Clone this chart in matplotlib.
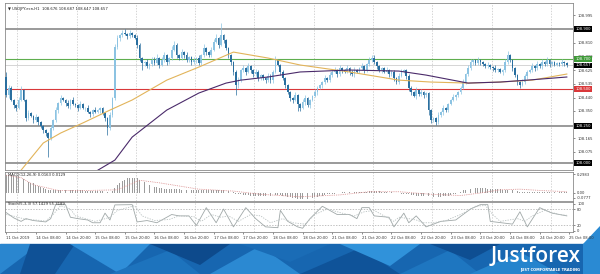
import matplotlib.pyplot as plt
import matplotlib.transforms as mtransforms
from matplotlib.patches import Polygon, Rectangle
import numpy as np

W, H = 600, 274

# ---- dane: USDJPY.ecn H1 ----
first_open = 108.580
closes = [
    108.457, 108.505, 108.424, 108.390, 108.370, 108.424, 108.491, 108.424,
    108.302, 108.336, 108.316, 108.289, 108.309, 108.275, 108.248, 108.221,
    108.201, 108.167, 108.235, 108.289, 108.356, 108.403, 108.437, 108.424,
    108.403, 108.383, 108.424, 108.397, 108.390, 108.370, 108.397, 108.370,
    108.370, 108.343, 108.329, 108.356, 108.343, 108.356, 108.370, 108.336,
    108.302, 108.235, 108.322, 108.437, 108.781, 108.842, 108.862, 108.875,
    108.869, 108.855, 108.875, 108.862, 108.842, 108.795, 108.707, 108.673,
    108.680, 108.653, 108.666, 108.693, 108.673, 108.707, 108.660, 108.693,
    108.727, 108.680, 108.707, 108.761, 108.795, 108.727, 108.707, 108.747,
    108.727, 108.693, 108.714, 108.680, 108.693, 108.707, 108.673, 108.727,
    108.774, 108.747, 108.727, 108.761, 108.815, 108.842, 108.795, 108.862,
    108.828, 108.774, 108.727, 108.680, 108.613, 108.525, 108.558, 108.626,
    108.639, 108.613, 108.653, 108.626, 108.599, 108.613, 108.572, 108.592,
    108.572, 108.558, 108.586, 108.558, 108.613, 108.693, 108.660, 108.613,
    108.572, 108.525, 108.477, 108.437, 108.424, 108.457, 108.397, 108.370,
    108.410, 108.437, 108.390, 108.424, 108.451, 108.477, 108.505, 108.525,
    108.545, 108.572, 108.558, 108.592, 108.613, 108.626, 108.599, 108.639,
    108.626, 108.613, 108.639, 108.613, 108.599, 108.626, 108.613, 108.639,
    108.653, 108.626, 108.666, 108.693, 108.707, 108.680, 108.653, 108.626,
    108.639, 108.613, 108.626, 108.599, 108.613, 108.572, 108.545, 108.586,
    108.613, 108.626, 108.586, 108.505, 108.477, 108.451, 108.491, 108.464,
    108.477, 108.457, 108.471, 108.356, 108.289, 108.302, 108.275, 108.322,
    108.343, 108.370, 108.356, 108.397, 108.424, 108.444, 108.457, 108.477,
    108.505, 108.545, 108.599, 108.639, 108.680, 108.693, 108.673, 108.693,
    108.680, 108.666, 108.653, 108.660, 108.646, 108.639, 108.626, 108.633,
    108.613, 108.626, 108.680, 108.727, 108.693, 108.639, 108.592, 108.545,
    108.525, 108.545, 108.586, 108.613, 108.626, 108.653, 108.639, 108.666,
    108.653, 108.680, 108.666, 108.693, 108.666, 108.680, 108.660, 108.673,
    108.666, 108.680, 108.673, 108.657,
]
# knoty w pipsach (0.01)
wick_up = [
    3, 2, 1, 1, 1, 2, 3, 1, 1, 2, 1, 1, 2, 1, 1, 1, 1, 1, 2, 1,
    2, 1, 2, 1, 1, 2, 1, 2, 1, 1, 2, 1, 1, 2, 1, 1, 2, 1, 1, 1,
    1, 1, 2, 1, 2, 2, 1, 2, 3, 1, 2, 1, 1, 2, 1, 1, 1, 2, 1, 2,
    2, 3, 1, 2, 2, 1, 1, 3, 3, 1, 1, 2, 1, 2, 1, 1, 2, 1, 2, 1,
    3, 1, 1, 2, 2, 3, 1, 8, 1, 1, 1, 1, 1, 1, 2, 1, 2, 1, 2, 1,
    1, 2, 1, 1, 1, 1, 2, 1, 1, 3, 1, 1, 1, 1, 1, 1, 1, 2, 1, 1,
    2, 2, 1, 1, 1, 2, 1, 1, 1, 2, 1, 2, 1, 2, 1, 2, 1, 1, 2, 1,
    1, 2, 1, 1, 2, 1, 1, 2, 2, 2, 1, 1, 1, 1, 2, 1, 1, 1, 1, 2,
    2, 1, 1, 1, 1, 1, 2, 1, 2, 1, 1, 1, 1, 1, 1, 2, 1, 2, 1, 1,
    1, 2, 1, 1, 1, 2, 1, 2, 2, 1, 1, 2, 1, 1, 1, 2, 1, 1, 2, 1,
    1, 1, 2, 3, 1, 1, 1, 1, 1, 2, 1, 1, 1, 2, 1, 2, 1, 2, 1, 2,
    1, 1, 1, 1, 1, 2, 1, 1,
]
wick_dn = [
    1, 2, 1, 2, 2, 1, 1, 1, 2, 1, 1, 2, 1, 2, 1, 2, 2, 13, 1, 1,
    1, 2, 1, 1, 2, 1, 2, 1, 1, 2, 1, 1, 2, 1, 2, 1, 1, 1, 2, 1,
    2, 5, 1, 1, 1, 1, 2, 1, 1, 2, 1, 1, 1, 2, 2, 5, 2, 1, 2, 1,
    1, 1, 2, 1, 1, 2, 1, 1, 1, 2, 1, 1, 2, 1, 1, 2, 1, 2, 1, 1,
    1, 2, 1, 1, 1, 1, 2, 1, 2, 1, 2, 2, 2, 7, 2, 1, 1, 2, 1, 2,
    2, 1, 2, 1, 1, 2, 1, 2, 2, 1, 1, 2, 1, 2, 1, 2, 2, 1, 5, 2,
    1, 2, 1, 2, 1, 1, 2, 1, 2, 1, 1, 1, 1, 1, 2, 1, 2, 1, 1, 2,
    1, 2, 1, 1, 1, 2, 1, 1, 1, 1, 2, 1, 2, 1, 1, 2, 1, 2, 1, 1,
    1, 1, 2, 2, 2, 1, 2, 1, 1, 2, 1, 3, 2, 1, 2, 1, 1, 2, 1, 1,
    1, 1, 2, 1, 1, 1, 1, 1, 1, 2, 1, 1, 2, 1, 1, 1, 1, 2, 1, 1,
    1, 2, 1, 1, 1, 2, 1, 2, 2, 1, 1, 2, 1, 1, 2, 1, 1, 2, 1, 1,
    2, 1, 1, 1, 1, 1, 2, 1,
]

# srednie kroczace (punkty)
ma_slow_x = [5, 15, 22, 31, 42, 51, 65, 78, 92, 106, 119, 139, 159, 172, 187, 200, 213, 227]
ma_slow_y = [107.930, 108.134, 108.201, 108.269, 108.356, 108.424, 108.558, 108.646, 108.747,
             108.707, 108.660, 108.613, 108.558, 108.545, 108.538, 108.545, 108.558, 108.599]
ma_200_x = [35, 44, 51, 65, 78, 89, 95, 106, 119, 139, 159, 170, 187, 200, 211, 227]
ma_200_y = [107.930, 108.019, 108.174, 108.356, 108.471, 108.538, 108.558, 108.579, 108.613,
            108.626, 108.619, 108.592, 108.538, 108.545, 108.558, 108.579]

# MACD(12,26,9)
macd_main = [
    0.29, 0.28, 0.28, 0.27, 0.27, 0.26, 0.24, 0.22, 0.20, 0.18, 0.16, 0.15,
    0.13, 0.11, 0.10, 0.08, 0.07, 0.05, 0.05, 0.04, 0.04, 0.04, 0.04, 0.04,
    0.05, 0.04, 0.05, 0.04, 0.04, 0.04, 0.04, 0.04, 0.03, 0.03, 0.03, 0.03,
    0.03, 0.03, 0.03, 0.03, 0.02, 0.01, 0.01, 0.03, 0.08, 0.12, 0.16, 0.19,
    0.21, 0.23, 0.24, 0.24, 0.24, 0.23, 0.21, 0.19, 0.17, 0.15, 0.13, 0.12,
    0.10, 0.09, 0.08, 0.08, 0.07, 0.07, 0.07, 0.07, 0.07, 0.06, 0.06, 0.05,
    0.05, 0.05, 0.04, 0.04, 0.04, 0.04, 0.04, 0.04, 0.04, 0.04, 0.04, 0.04,
    0.05, 0.05, 0.05, 0.05, 0.05, 0.04, 0.03, 0.02, 0.01, -0.01, -0.02, -0.02,
    -0.03, -0.03, -0.03, -0.04, -0.04, -0.04, -0.04, -0.04, -0.04, -0.04, -0.04, -0.04,
    -0.03, -0.03, -0.03, -0.03, -0.04, -0.05, -0.06, -0.07, -0.08, -0.08, -0.09, -0.09,
    -0.09, -0.09, -0.09, -0.08, -0.08, -0.07, -0.06, -0.05, -0.04, -0.03, -0.02, -0.02,
    -0.01, -0.01, 0.00, 0.00, 0.01, 0.01, 0.01, 0.01, 0.01, 0.01, 0.01, 0.02,
    0.02, 0.02, 0.02, 0.03, 0.03, 0.03, 0.03, 0.03, 0.02, 0.02, 0.02, 0.02,
    0.01, 0.01, 0.00, 0.00, -0.01, -0.01, -0.01, -0.02, -0.03, -0.03, -0.04, -0.04,
    -0.04, -0.04, -0.05, -0.05, -0.06, -0.06, -0.06, -0.06, -0.06, -0.05, -0.05, -0.04,
    -0.03, -0.02, -0.01, 0.00, 0.02, 0.04, 0.05, 0.06, 0.07, 0.07, 0.08, 0.08,
    0.08, 0.08, 0.08, 0.07, 0.07, 0.07, 0.06, 0.06, 0.06, 0.05, 0.05, 0.05,
    0.05, 0.04, 0.04, 0.03, 0.02, 0.02, 0.02, 0.02, 0.02, 0.02, 0.02, 0.02,
    0.02, 0.02, 0.02, 0.02, 0.02, 0.02, 0.02, 0.02, 0.02, 0.02, 0.02, 0.02,
]
macd_sig_x = [0, 6, 11, 21, 34, 45, 54, 62, 78, 92, 103, 119, 135, 147, 159, 172, 184, 192, 200, 208, 216, 227]
macd_sig_y = [0.28, 0.24, 0.13, 0.04, 0.04, 0.05, 0.20, 0.16, 0.06, 0.03, -0.02, -0.06,
              -0.03, 0.02, 0.02, -0.02, -0.04, 0.00, 0.05, 0.06, 0.04, 0.02]

# Stoch(5,3,3)
st_main_x = [0, 3, 6, 8, 11, 14, 16, 18, 20, 24, 26, 29, 33, 35, 38, 40, 42, 44, 51, 53,
             57, 61, 65, 67, 70, 74, 77, 81, 85, 88, 92, 97, 101, 105, 110, 111, 114, 118, 120, 123,
             128, 134, 139, 142, 144, 147, 149, 155, 157, 161, 163, 166, 170, 176, 182, 188, 192, 195, 196, 205,
             208, 211, 216, 221, 227]
st_main_y = [67, 48, 35, 45, 38, 35, 33, 45, 96, 96, 50, 45, 40, 30, 30, 65, 40, 95, 96, 33,
             38, 30, 50, 60, 55, 55, 20, 85, 30, 80, 15, 85, 45, 15, 12, 75, 35, 15, 10, 45,
             90, 60, 60, 45, 85, 85, 55, 50, 15, 65, 30, 55, 15, 35, 40, 80, 96, 96, 35, 25,
             70, 15, 85, 65, 55]
st_sig_x = [0, 4, 8, 12, 16, 19, 22, 26, 28, 32, 36, 39, 42, 45, 52, 55, 60, 66, 70, 76,
            79, 83, 87, 90, 94, 99, 103, 107, 112, 116, 121, 125, 130, 136, 141, 145, 149, 152, 157, 159,
            163, 166, 169, 173, 178, 184, 190, 194, 197, 200, 207, 210, 213, 218, 224, 227]
st_sig_y = [60, 52, 42, 40, 36, 60, 92, 80, 55, 45, 35, 42, 50, 75, 92, 55, 38, 42, 55, 52,
            35, 60, 50, 55, 35, 60, 55, 30, 45, 30, 25, 60, 80, 65, 55, 70, 75, 60, 35, 50,
            45, 40, 30, 30, 38, 60, 90, 93, 60, 35, 45, 35, 55, 75, 60, 57]

# poziomy i opisy osi
levels_gray = [108.900, 108.250, 108.000]
level_green = 108.700
level_red = 108.500
price_now = 108.657
price_ticks = [108.995, 108.810, 108.720, 108.625, 108.535, 108.440, 108.350, 108.165, 108.075]
date_labels = ["11 Oct 2019", "14 Oct 08:00", "14 Oct 20:00", "15 Oct 08:00", "15 Oct 20:00",
               "16 Oct 08:00", "16 Oct 20:00", "17 Oct 08:00", "17 Oct 20:00", "18 Oct 08:00",
               "18 Oct 20:00", "21 Oct 08:00", "21 Oct 20:00", "22 Oct 08:00", "22 Oct 20:00",
               "23 Oct 08:00", "23 Oct 20:00", "24 Oct 08:00", "24 Oct 20:00", "25 Oct 08:00"]

n = len(closes)
xs = np.arange(n)
opens = np.array([first_open] + closes[:-1])
closes_a = np.array(closes)
highs = np.maximum(opens, closes_a) + np.array(wick_up) * 0.01
lows = np.minimum(opens, closes_a) - np.array(wick_dn) * 0.01

fig = plt.figure(figsize=(W / 100, H / 100), dpi=100)
fs = 2.7
grid_c = '#c4c4c4'
frame_c = '#8a8a8a'


def px_axes(x0, y0, x1, y1, **kw):
    return fig.add_axes([x0 / W, 1 - y1 / H, (x1 - x0) / W, (y1 - y0) / H], **kw)


# tlo / baner
deco = px_axes(0, 0, W, H, zorder=-5)
deco.set_xlim(0, W)
deco.set_ylim(H, 0)
deco.axis('off')
deco.add_patch(Rectangle((0, 244), W, 30, color='#1766b0'))
facets = [
    ([(0, 244), (40, 244), (0, 274)], '#2a86cf'),
    ([(30, 244), (75, 244), (55, 274), (20, 274)], '#0f5196'),
    ([(70, 244), (150, 244), (120, 274)], '#2f8ed8'),
    ([(110, 274), (170, 250), (200, 274)], '#1d73bd'),
    ([(150, 244), (230, 244), (200, 265)], '#0d4a8c'),
    ([(210, 274), (260, 246), (300, 274)], '#2b89d2'),
    ([(240, 244), (330, 244), (290, 262)], '#1a6cb6'),
    ([(300, 274), (360, 248), (400, 274)], '#0f5399'),
    ([(340, 244), (420, 244), (390, 266)], '#3092da'),
    ([(400, 274), (450, 250), (480, 274)], '#1e76c0'),
    ([(430, 244), (500, 244), (470, 260)], '#0e4e92'),
    ([(470, 274), (520, 252), (560, 274)], '#2584cd'),
    ([(583, 244), (600, 226), (600, 274), (583, 274)], '#2a8ad3'),
]
for pts, col in facets:
    deco.add_patch(Polygon(pts, closed=True, color=col, lw=0))
deco.text(581, 262, "Justforex", color='white', fontsize=15, ha='right', va='baseline',
          family='Open Sans', fontweight='semibold')
deco.text(580, 269.5, "JUST COMFORTABLE TRADING", color='white', fontsize=2.6, ha='right',
          va='center', fontweight='bold')

ax = px_axes(5, 3, 573, 170)
ax_m = px_axes(5, 172, 573, 200.5)
ax_s = px_axes(5, 201.5, 573, 232)

grid_x = np.arange(4.5, n, 24)
for a in (ax, ax_m, ax_s):
    a.set_xlim(-0.5, 229.5)
    for s in a.spines.values():
        s.set_color(frame_c)
        s.set_linewidth(0.6)
    for gx in grid_x:
        a.axvline(gx, color=grid_c, lw=0.5, ls=(0, (2, 2)), zorder=0)
    a.yaxis.tick_right()
    a.tick_params(axis='y', labelsize=fs, length=1.5, width=0.4, pad=1.5, colors='#333333')
    a.tick_params(axis='x', length=0)
    a.set_xticks([])

# ---- panel glowny ----
ax.set_ylim(107.952, 109.078)
for lv in levels_gray:
    ax.axhline(lv, color='#9a9a9a', lw=1.4, zorder=1)
ax.axhline(level_green, color='#5fae4e', lw=0.8, zorder=1)
ax.axhline(level_red, color='#d9383a', lw=0.8, zorder=1)
ax.axhline(price_now, color='#cfcfcf', lw=0.6, zorder=1)

up = closes_a >= opens
col = np.where(up, '#8cc3e2', '#2a6f9f')
ax.vlines(xs, lows, highs, colors=col, lw=0.5, zorder=3)
body_lo = np.minimum(opens, closes_a)
body_h = np.maximum(np.abs(closes_a - opens), 0.003)
ax.bar(xs, body_h, bottom=body_lo, width=0.7, color=col, lw=0, zorder=4)

ax.plot(ma_slow_x, ma_slow_y, color='#e2b45a', lw=0.8, zorder=5)
ax.plot(ma_200_x, ma_200_y, color='#4a2a6a', lw=0.8, zorder=5)

ax.set_yticks(price_ticks)
ax.set_yticklabels([f"{p:.3f}" for p in price_ticks])

trans = mtransforms.blended_transform_factory(ax.transAxes, ax.transData)
boxes = [(levels_gray[0], 'black'), (level_green, '#3f9a38'), (price_now, 'black'),
         (level_red, '#d9383a'), (levels_gray[1], 'black'), (levels_gray[2], 'black')]
for val, bc in boxes:
    ax.text(1.004, val, f"{val:.3f}", transform=trans, fontsize=fs, color='white', va='center',
            ha='left', bbox=dict(boxstyle='square,pad=0.25', fc=bc, ec='none'), zorder=10)

ax.text(0.006, 0.975, "\u25bc USDJPY.ecn,H1  108.676 108.687 108.647 108.657", transform=ax.transAxes,
        fontsize=fs, color='#222222', va='top', ha='left')

# ---- MACD ----
ax_m.set_ylim(-0.118, 0.330)
ax_m.bar(xs, macd_main, width=0.35, color='#9c9c9c', lw=0)
ax_m.plot(macd_sig_x, macd_sig_y, color='#d88a8a', lw=0.6, ls=(0, (1, 1.2)))
ax_m.set_yticks([0.2983, 0.0, -0.0777])
ax_m.set_yticklabels(["0.2983", "0.00", "-0.0777"])
ax_m.text(0.006, 0.95, "MACD(12,26,9) 0.0163 0.0129", transform=ax_m.transAxes,
          fontsize=fs, color='#222222', va='top', ha='left')

# ---- Stochastic ----
ax_s.set_ylim(-3.7, 107.4)
for lv in (80, 20):
    ax_s.axhline(lv, color='#a8a8a8', lw=0.5, ls=(0, (2, 2)))
ax_s.plot(st_main_x, st_main_y, color='#a0a8a8', lw=0.6)
ax_s.plot(st_sig_x, st_sig_y, color='#b8c0c0', lw=0.6, ls=(0, (1.5, 1.5)))
ax_s.set_yticks([100, 80, 20, 0])
ax_s.set_yticklabels(["100", "80", "20", "0"])
ax_s.text(0.006, 0.97, "Stoch(5,3,3) 57.1429 55.3189", transform=ax_s.transAxes,
          fontsize=fs, color='#222222', va='top', ha='left')

label_x = np.arange(0, 12 * len(date_labels), 12)
ax_s.set_xticks(label_x)
ax_s.set_xticklabels(date_labels, ha='left')
ax_s.tick_params(axis='x', length=1.5, width=0.4, labelsize=fs, pad=1.5, colors='#333333')
ax_s.set_xlim(-0.5, 229.5)

fig.savefig('out.png', dpi=100)
